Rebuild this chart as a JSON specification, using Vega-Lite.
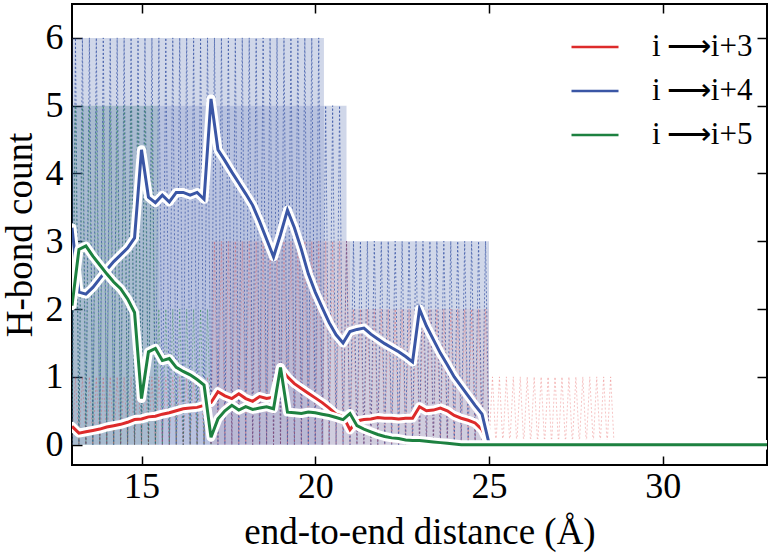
{
  "$schema": "https://vega.github.io/schema/vega-lite/v6.json",
  "width": 695,
  "height": 461,
  "autosize": {"type": "none"},
  "padding": {"left": 72, "top": 4, "right": 10, "bottom": 93},
  "background": "white",
  "datasets": {
    "bands": [
      {"s": "b", "x": 13, "x2": 20.25, "y": 0, "y2": 5},
      {"s": "b2", "x": 13, "x2": 20.25, "y": 5, "y2": 6},
      {"s": "b2", "x": 20.25, "x2": 20.9, "y": 0, "y2": 5},
      {"s": "b2", "x": 20.9, "x2": 25, "y": 0, "y2": 3},
      {"s": "g", "x": 13, "x2": 15.5, "y": 0, "y2": 5},
      {"s": "r", "x": 17, "x2": 21, "y": 0, "y2": 3},
      {"s": "r", "x": 21, "x2": 25, "y": 0, "y2": 2}
    ],
    "avg": [
      {"x": 13.0, "r": 0.27, "b": 3.2, "g": 2.05},
      {"x": 13.2, "r": 0.17, "b": 2.25, "g": 2.88},
      {"x": 13.4, "r": 0.19, "b": 2.22, "g": 2.93},
      {"x": 13.6, "r": 0.21, "b": 2.32, "g": 2.78},
      {"x": 13.8, "r": 0.23, "b": 2.45, "g": 2.65},
      {"x": 14.0, "r": 0.26, "b": 2.58, "g": 2.52},
      {"x": 14.2, "r": 0.28, "b": 2.70, "g": 2.40},
      {"x": 14.4, "r": 0.30, "b": 2.80, "g": 2.30},
      {"x": 14.6, "r": 0.33, "b": 2.90, "g": 2.15},
      {"x": 14.8, "r": 0.37, "b": 3.05, "g": 1.95},
      {"x": 15.0, "r": 0.38, "b": 4.35, "g": 0.68},
      {"x": 15.2, "r": 0.41, "b": 3.65, "g": 1.37},
      {"x": 15.4, "r": 0.42, "b": 3.57, "g": 1.42},
      {"x": 15.6, "r": 0.45, "b": 3.68, "g": 1.24},
      {"x": 15.8, "r": 0.47, "b": 3.58, "g": 1.27},
      {"x": 16.0, "r": 0.50, "b": 3.72, "g": 1.14},
      {"x": 16.2, "r": 0.53, "b": 3.72, "g": 1.08},
      {"x": 16.4, "r": 0.54, "b": 3.68, "g": 1.03},
      {"x": 16.6, "r": 0.55, "b": 3.72, "g": 0.96},
      {"x": 16.8, "r": 0.58, "b": 3.62, "g": 0.88},
      {"x": 17.0, "r": 0.62, "b": 5.10, "g": 0.11},
      {"x": 17.2, "r": 0.78, "b": 4.35, "g": 0.38},
      {"x": 17.4, "r": 0.72, "b": 4.19, "g": 0.50},
      {"x": 17.6, "r": 0.68, "b": 4.02, "g": 0.58},
      {"x": 17.8, "r": 0.75, "b": 3.86, "g": 0.51},
      {"x": 18.0, "r": 0.68, "b": 3.70, "g": 0.56},
      {"x": 18.2, "r": 0.64, "b": 3.53, "g": 0.52},
      {"x": 18.4, "r": 0.71, "b": 3.29, "g": 0.54},
      {"x": 18.6, "r": 0.68, "b": 3.03, "g": 0.56},
      {"x": 18.8, "r": 0.70, "b": 2.77, "g": 0.53},
      {"x": 19.0, "r": 1.13, "b": 3.10, "g": 1.14},
      {"x": 19.2, "r": 1.00, "b": 3.46, "g": 0.48},
      {"x": 19.4, "r": 0.90, "b": 3.20, "g": 0.47},
      {"x": 19.6, "r": 0.83, "b": 2.88, "g": 0.46},
      {"x": 19.8, "r": 0.76, "b": 2.52, "g": 0.48},
      {"x": 20.0, "r": 0.69, "b": 2.25, "g": 0.47},
      {"x": 20.2, "r": 0.62, "b": 2.02, "g": 0.45},
      {"x": 20.4, "r": 0.54, "b": 1.80, "g": 0.43},
      {"x": 20.6, "r": 0.45, "b": 1.62, "g": 0.40},
      {"x": 20.8, "r": 0.42, "b": 1.50, "g": 0.37},
      {"x": 21.0, "r": 0.22, "b": 1.67, "g": 0.46},
      {"x": 21.2, "r": 0.35, "b": 1.70, "g": 0.28},
      {"x": 21.4, "r": 0.37, "b": 1.72, "g": 0.23},
      {"x": 21.6, "r": 0.38, "b": 1.63, "g": 0.19},
      {"x": 21.8, "r": 0.40, "b": 1.56, "g": 0.15},
      {"x": 22.0, "r": 0.39, "b": 1.49, "g": 0.12},
      {"x": 22.2, "r": 0.39, "b": 1.43, "g": 0.10},
      {"x": 22.4, "r": 0.38, "b": 1.37, "g": 0.09},
      {"x": 22.6, "r": 0.39, "b": 1.30, "g": 0.07},
      {"x": 22.8, "r": 0.39, "b": 1.22, "g": 0.06},
      {"x": 23.0, "r": 0.56, "b": 2.00, "g": 0.06},
      {"x": 23.2, "r": 0.50, "b": 1.75, "g": 0.05},
      {"x": 23.4, "r": 0.51, "b": 1.55, "g": 0.04},
      {"x": 23.6, "r": 0.54, "b": 1.35, "g": 0.03},
      {"x": 23.8, "r": 0.50, "b": 1.18, "g": 0.02},
      {"x": 24.0, "r": 0.43, "b": 1.00, "g": 0.01},
      {"x": 24.2, "r": 0.39, "b": 0.86, "g": 0},
      {"x": 24.4, "r": 0.36, "b": 0.72, "g": 0},
      {"x": 24.6, "r": 0.32, "b": 0.58, "g": 0},
      {"x": 24.8, "r": 0.22, "b": 0.45, "g": 0},
      {"x": 25.0, "r": 0.01, "b": 0.02, "g": 0},
      {"x": 33.0, "r": 0, "b": 0, "g": 0}
    ],
    "raw": [
      {"x":13.0,"r":0,"b":0,"g":0},{"x":13.1,"r":1,"b":6,"g":5},{"x":13.2,"r":0,"b":0,"g":0},{"x":13.3,"r":1,"b":6,"g":5},
      {"x":13.4,"r":0,"b":0,"g":0},{"x":13.5,"r":1,"b":6,"g":5},{"x":13.6,"r":0,"b":0,"g":0},{"x":13.7,"r":1,"b":6,"g":5},
      {"x":13.8,"r":0,"b":0,"g":0},{"x":13.9,"r":1,"b":6,"g":5},{"x":14.0,"r":0,"b":0,"g":0},{"x":14.1,"r":1,"b":6,"g":5},
      {"x":14.2,"r":0,"b":0,"g":0},{"x":14.3,"r":1,"b":6,"g":5},{"x":14.4,"r":0,"b":0,"g":0},{"x":14.5,"r":1,"b":6,"g":5},
      {"x":14.6,"r":0,"b":0,"g":0},{"x":14.7,"r":1,"b":6,"g":5},{"x":14.8,"r":0,"b":0,"g":0},{"x":14.9,"r":1,"b":6,"g":5},
      {"x":15.0,"r":0,"b":0,"g":0},{"x":15.1,"r":1,"b":6,"g":5},{"x":15.2,"r":0,"b":0,"g":0},{"x":15.3,"r":1,"b":6,"g":5},
      {"x":15.4,"r":0,"b":0,"g":0},{"x":15.5,"r":1,"b":6,"g":2},{"x":15.6,"r":0,"b":0,"g":0},{"x":15.7,"r":1,"b":6,"g":2},
      {"x":15.8,"r":0,"b":0,"g":0},{"x":15.9,"r":1,"b":6,"g":2},{"x":16.0,"r":0,"b":0,"g":0},{"x":16.1,"r":1,"b":6,"g":2},
      {"x":16.2,"r":0,"b":0,"g":0},{"x":16.3,"r":1,"b":6,"g":2},{"x":16.4,"r":0,"b":0,"g":0},{"x":16.5,"r":1,"b":6,"g":2},
      {"x":16.6,"r":0,"b":0,"g":0},{"x":16.7,"r":1,"b":6,"g":2},{"x":16.8,"r":0,"b":0,"g":0},{"x":16.9,"r":1,"b":6,"g":2},
      {"x":17.0,"r":0,"b":0,"g":0},
      {"x":17.1,"r":3,"b":6},{"x":17.2,"r":0,"b":0},{"x":17.3,"r":3,"b":6},{"x":17.4,"r":0,"b":0},
      {"x":17.5,"r":3,"b":6},{"x":17.6,"r":0,"b":0},{"x":17.7,"r":3,"b":6},{"x":17.8,"r":0,"b":0},
      {"x":17.9,"r":3,"b":6},{"x":18.0,"r":0,"b":0},{"x":18.1,"r":3,"b":6},{"x":18.2,"r":0,"b":0},
      {"x":18.3,"r":3,"b":6},{"x":18.4,"r":0,"b":0},{"x":18.5,"r":3,"b":6},{"x":18.6,"r":0,"b":0},
      {"x":18.7,"r":3,"b":6},{"x":18.8,"r":0,"b":0},{"x":18.9,"r":3,"b":6},{"x":19.0,"r":0,"b":0},
      {"x":19.1,"r":3,"b":6},{"x":19.2,"r":0,"b":0},{"x":19.3,"r":3,"b":6},{"x":19.4,"r":0,"b":0},
      {"x":19.5,"r":3,"b":6},{"x":19.6,"r":0,"b":0},{"x":19.7,"r":3,"b":6},{"x":19.8,"r":0,"b":0},
      {"x":19.9,"r":3,"b":6},{"x":20.0,"r":0,"b":0},{"x":20.1,"r":3,"b":6},{"x":20.2,"r":0,"b":0},
      {"x":20.3,"r":3,"b":5},{"x":20.4,"r":0,"b":0},{"x":20.5,"r":3,"b":5},{"x":20.6,"r":0,"b":0},
      {"x":20.7,"r":3,"b":5},{"x":20.8,"r":0,"b":0},{"x":20.9,"r":3,"b":3},{"x":21.0,"r":0,"b":0},
      {"x":21.1,"r":2,"b":3},{"x":21.2,"r":0,"b":0},{"x":21.3,"r":2,"b":3},{"x":21.4,"r":0,"b":0},
      {"x":21.5,"r":2,"b":3},{"x":21.6,"r":0,"b":0},{"x":21.7,"r":2,"b":3},{"x":21.8,"r":0,"b":0},
      {"x":21.9,"r":2,"b":3},{"x":22.0,"r":0,"b":0},{"x":22.1,"r":2,"b":3},{"x":22.2,"r":0,"b":0},
      {"x":22.3,"r":2,"b":3},{"x":22.4,"r":0,"b":0},{"x":22.5,"r":2,"b":3},{"x":22.6,"r":0,"b":0},
      {"x":22.7,"r":2,"b":3},{"x":22.8,"r":0,"b":0},{"x":22.9,"r":2,"b":3},{"x":23.0,"r":0,"b":0},
      {"x":23.1,"r":2,"b":3},{"x":23.2,"r":0,"b":0},{"x":23.3,"r":2,"b":3},{"x":23.4,"r":0,"b":0},
      {"x":23.5,"r":2,"b":3},{"x":23.6,"r":0,"b":0},{"x":23.7,"r":2,"b":3},{"x":23.8,"r":0,"b":0},
      {"x":23.9,"r":2,"b":3},{"x":24.0,"r":0,"b":0},{"x":24.1,"r":2,"b":3},{"x":24.2,"r":0,"b":0},
      {"x":24.3,"r":2,"b":3},{"x":24.4,"r":0,"b":0},{"x":24.5,"r":2,"b":3},{"x":24.6,"r":0,"b":0},
      {"x":24.7,"r":2,"b":3},{"x":24.8,"r":0,"b":0},{"x":24.9,"r":2,"b":3},{"x":25.0,"r":0,"b":0},
      {"x":25.1,"r":1},{"x":25.2,"r":0},{"x":25.3,"r":1},{"x":25.4,"r":0},{"x":25.5,"r":1},{"x":25.6,"r":0},
      {"x":25.7,"r":1},{"x":25.8,"r":0},{"x":25.9,"r":1},{"x":26.0,"r":0},{"x":26.1,"r":1},{"x":26.2,"r":0},
      {"x":26.3,"r":1},{"x":26.4,"r":0},{"x":26.5,"r":1},{"x":26.6,"r":0},{"x":26.7,"r":1},{"x":26.8,"r":0},
      {"x":26.9,"r":1},{"x":27.0,"r":0},{"x":27.1,"r":1},{"x":27.2,"r":0},{"x":27.3,"r":1},{"x":27.4,"r":0},
      {"x":27.5,"r":1},{"x":27.6,"r":0},{"x":27.7,"r":1},{"x":27.8,"r":0},{"x":27.9,"r":1},{"x":28.0,"r":0},
      {"x":28.1,"r":1},{"x":28.2,"r":0},{"x":28.3,"r":1},{"x":28.4,"r":0},{"x":28.5,"r":1},{"x":28.6,"r":0}
    ]
  },
  "layer": [
    {
      "data": {"name": "bands"},
      "transform": [{"filter": "datum.s === 'b'"}],
      "mark": {"type": "rect", "color": "#3a56a5", "opacity": 0.36},
      "encoding": {
        "x": {"field": "x", "type": "quantitative", "scale": {"domain": [13, 33], "nice": false, "zero": false},
              "axis": {"orient": "bottom", "values": [15, 20, 25, 30], "title": "end-to-end distance (Å)", "labelPadding": 13, "titlePadding": 10, "tickSize": -9}},
        "x2": {"field": "x2"},
        "y": {"field": "y", "type": "quantitative", "scale": {"domain": [-0.3, 6.5], "nice": false, "zero": false},
              "axis": {"orient": "left", "values": [0, 1, 2, 3, 4, 5, 6], "title": "H-bond count", "labelPadding": 19, "titlePadding": 6, "tickSize": -10}},
        "y2": {"field": "y2"}
      }
    },
    {
      "data": {"name": "bands"},
      "transform": [{"filter": "datum.s === 'b2'"}],
      "mark": {"type": "rect", "color": "#3a56a5", "opacity": 0.24},
      "encoding": {
        "x": {"field": "x", "type": "quantitative", "scale": {"domain": [13, 33], "nice": false, "zero": false}, "axis": null},
        "x2": {"field": "x2"},
        "y": {"field": "y", "type": "quantitative", "scale": {"domain": [-0.3, 6.5], "nice": false, "zero": false}, "axis": null},
        "y2": {"field": "y2"}
      }
    },
    {
      "data": {"name": "bands"},
      "transform": [{"filter": "datum.s === 'g'"}],
      "mark": {"type": "rect", "color": "#1d8140", "opacity": 0.1},
      "encoding": {
        "x": {"field": "x", "type": "quantitative", "scale": {"domain": [13, 33], "nice": false, "zero": false}, "axis": null},
        "x2": {"field": "x2"},
        "y": {"field": "y", "type": "quantitative", "scale": {"domain": [-0.3, 6.5], "nice": false, "zero": false}, "axis": null},
        "y2": {"field": "y2"}
      }
    },
    {
      "data": {"name": "bands"},
      "transform": [{"filter": "datum.s === 'r'"}],
      "mark": {"type": "rect", "color": "#dd2b2b", "opacity": 0.06},
      "encoding": {
        "x": {"field": "x", "type": "quantitative", "scale": {"domain": [13, 33], "nice": false, "zero": false}, "axis": null},
        "x2": {"field": "x2"},
        "y": {"field": "y", "type": "quantitative", "scale": {"domain": [-0.3, 6.5], "nice": false, "zero": false}, "axis": null},
        "y2": {"field": "y2"}
      }
    },
    {
      "data": {"name": "raw"},
      "transform": [{"fold": ["r", "b", "g"], "as": ["s", "v"]}, {"filter": "datum.s === 'b'"}],
      "mark": {"type": "line", "stroke": "#3a56a5", "strokeWidth": 1, "strokeDash": [2, 2], "opacity": 0.75, "clip": true},
      "encoding": {
        "x": {"field": "x", "type": "quantitative", "scale": {"domain": [13, 33], "nice": false, "zero": false},
              "axis": {"orient": "top", "values": [15, 20, 25, 30], "labels": false, "title": null, "tickSize": -9}},
        "y": {"field": "v", "type": "quantitative", "scale": {"domain": [-0.3, 6.5], "nice": false, "zero": false},
              "axis": {"orient": "right", "values": [0, 1, 2, 3, 4, 5, 6], "labels": false, "title": null, "tickSize": -10}}
      }
    },
    {
      "data": {"name": "raw"},
      "transform": [{"fold": ["r", "b", "g"], "as": ["s", "v"]}, {"filter": "datum.s === 'g'"}],
      "mark": {"type": "line", "stroke": "#1d8140", "strokeWidth": 0.9, "strokeDash": [2, 2], "opacity": 0.5, "clip": true},
      "encoding": {
        "x": {"field": "x", "type": "quantitative", "scale": {"domain": [13, 33], "nice": false, "zero": false}, "axis": null},
        "y": {"field": "v", "type": "quantitative", "scale": {"domain": [-0.3, 6.5], "nice": false, "zero": false}, "axis": null}
      }
    },
    {
      "data": {"name": "raw"},
      "transform": [{"fold": ["r", "b", "g"], "as": ["s", "v"]}, {"filter": "datum.s === 'r'"}],
      "mark": {"type": "line", "stroke": "#dd2b2b", "strokeWidth": 0.8, "strokeDash": [2, 2], "opacity": 0.35, "clip": true},
      "encoding": {
        "x": {"field": "x", "type": "quantitative", "scale": {"domain": [13, 33], "nice": false, "zero": false}, "axis": null},
        "y": {"field": "v", "type": "quantitative", "scale": {"domain": [-0.3, 6.5], "nice": false, "zero": false}, "axis": null}
      }
    },
    {
      "data": {"name": "avg"},
      "transform": [{"fold": ["r", "b", "g"], "as": ["s", "v"]}, {"filter": "datum.s === 'r'"}],
      "mark": {"type": "line", "stroke": "white", "strokeWidth": 9, "strokeJoin": "round", "strokeCap": "round", "clip": true},
      "encoding": {
        "x": {"field": "x", "type": "quantitative", "scale": {"domain": [13, 33], "nice": false, "zero": false}, "axis": null},
        "y": {"field": "v", "type": "quantitative", "scale": {"domain": [-0.3, 6.5], "nice": false, "zero": false}, "axis": null}
      }
    },
    {
      "data": {"name": "avg"},
      "transform": [{"fold": ["r", "b", "g"], "as": ["s", "v"]}, {"filter": "datum.s === 'r'"}],
      "mark": {"type": "line", "strokeWidth": 3, "clip": true},
      "encoding": {
        "x": {"field": "x", "type": "quantitative", "scale": {"domain": [13, 33], "nice": false, "zero": false}, "axis": null},
        "y": {"field": "v", "type": "quantitative", "scale": {"domain": [-0.3, 6.5], "nice": false, "zero": false}, "axis": null},
        "color": {"field": "s", "type": "nominal", "scale": {"domain": ["r", "b", "g"], "range": ["#dd2b2b", "#3a56a5", "#1d8140"]},
                  "legend": {"labelExpr": "datum.label === 'r' ? 'i\u2009⟶i+3' : datum.label === 'b' ? 'i\u2009⟶i+4' : 'i\u2009⟶i+5'"}}
      }
    },
    {
      "data": {"name": "avg"},
      "transform": [{"fold": ["r", "b", "g"], "as": ["s", "v"]}, {"filter": "datum.s === 'b'"}],
      "mark": {"type": "line", "stroke": "white", "strokeWidth": 9, "strokeJoin": "round", "strokeCap": "round", "clip": true},
      "encoding": {
        "x": {"field": "x", "type": "quantitative", "scale": {"domain": [13, 33], "nice": false, "zero": false}, "axis": null},
        "y": {"field": "v", "type": "quantitative", "scale": {"domain": [-0.3, 6.5], "nice": false, "zero": false}, "axis": null}
      }
    },
    {
      "data": {"name": "avg"},
      "transform": [{"fold": ["r", "b", "g"], "as": ["s", "v"]}, {"filter": "datum.s === 'b'"}],
      "mark": {"type": "line", "strokeWidth": 3, "clip": true},
      "encoding": {
        "x": {"field": "x", "type": "quantitative", "scale": {"domain": [13, 33], "nice": false, "zero": false}, "axis": null},
        "y": {"field": "v", "type": "quantitative", "scale": {"domain": [-0.3, 6.5], "nice": false, "zero": false}, "axis": null},
        "color": {"field": "s", "type": "nominal", "scale": {"domain": ["r", "b", "g"], "range": ["#dd2b2b", "#3a56a5", "#1d8140"]},
                  "legend": {"labelExpr": "datum.label === 'r' ? 'i\u2009⟶i+3' : datum.label === 'b' ? 'i\u2009⟶i+4' : 'i\u2009⟶i+5'"}}
      }
    },
    {
      "data": {"name": "avg"},
      "transform": [{"fold": ["r", "b", "g"], "as": ["s", "v"]}, {"filter": "datum.s === 'g'"}],
      "mark": {"type": "line", "stroke": "white", "strokeWidth": 9, "strokeJoin": "round", "strokeCap": "round", "clip": true},
      "encoding": {
        "x": {"field": "x", "type": "quantitative", "scale": {"domain": [13, 33], "nice": false, "zero": false}, "axis": null},
        "y": {"field": "v", "type": "quantitative", "scale": {"domain": [-0.3, 6.5], "nice": false, "zero": false}, "axis": null}
      }
    },
    {
      "data": {"name": "avg"},
      "transform": [{"fold": ["r", "b", "g"], "as": ["s", "v"]}, {"filter": "datum.s === 'g'"}],
      "mark": {"type": "line", "strokeWidth": 3, "clip": true},
      "encoding": {
        "x": {"field": "x", "type": "quantitative", "scale": {"domain": [13, 33], "nice": false, "zero": false}, "axis": null},
        "y": {"field": "v", "type": "quantitative", "scale": {"domain": [-0.3, 6.5], "nice": false, "zero": false}, "axis": null},
        "color": {"field": "s", "type": "nominal", "scale": {"domain": ["r", "b", "g"], "range": ["#dd2b2b", "#3a56a5", "#1d8140"]},
                  "legend": {"labelExpr": "datum.label === 'r' ? 'i\u2009⟶i+3' : datum.label === 'b' ? 'i\u2009⟶i+4' : 'i\u2009⟶i+5'"}}
      }
    }
  ],
  "resolve": {"axis": {"x": "independent", "y": "independent"}},
  "config": {
    "font": "Liberation Serif",
    "view": {"stroke": "black", "strokeWidth": 2},
    "axis": {
      "grid": false,
      "domain": false,
      "tickColor": "black",
      "tickWidth": 1.5,
      "labelFont": "Liberation Serif",
      "labelFontSize": 36,
      "labelColor": "black",
      "titleFont": "Liberation Serif",
      "titleFontSize": 37,
      "titleFontWeight": "normal",
      "titleColor": "black"
    },
    "legend": {
      "orient": "none",
      "legendX": 498,
      "legendY": 18,
      "title": null,
      "padding": 0,
      "symbolType": "stroke",
      "symbolSize": 2209,
      "symbolStrokeWidth": 2.5,
      "labelFont": "Liberation Serif",
      "labelFontSize": 31,
      "labelColor": "black",
      "labelOffset": 32,
      "rowPadding": 4
    }
  }
}
